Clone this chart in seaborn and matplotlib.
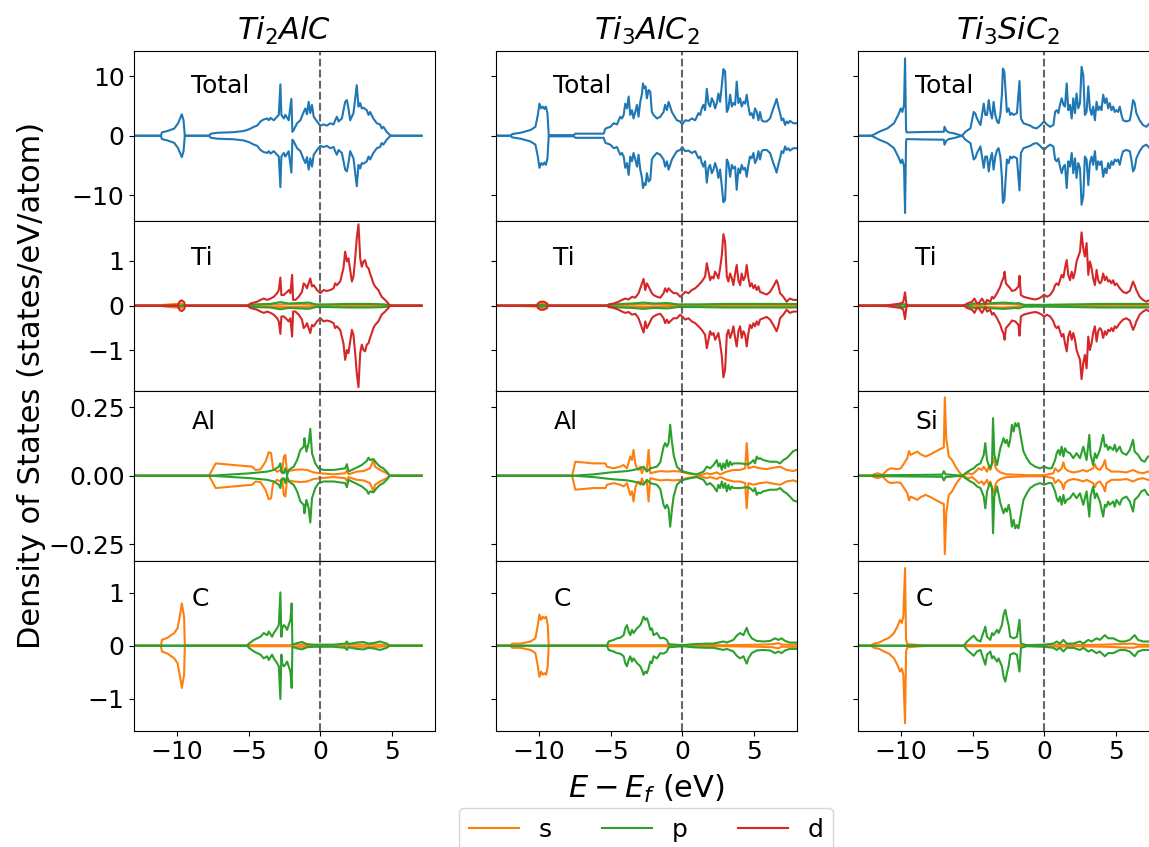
import numpy as np
import matplotlib
matplotlib.use("Agg")
import matplotlib.pyplot as plt
import seaborn as sns

# ---------------------------------------------------------------------------
# Density of states (states/eV/atom) vs. E - E_f (eV); spin-down drawn mirrored
# ---------------------------------------------------------------------------
compounds = [r"$Ti_2AlC$", r"$Ti_3AlC_2$", r"$Ti_3SiC_2$"]
row_labels = [["Total", "Ti", "Al", "C"],
              ["Total", "Ti", "Al", "C"],
              ["Total", "Ti", "Si", "C"]]
orbitals = ["s", "p", "d"]

# ----------------------------- Ti2AlC --------------------------------------
e_ti2alc_total = [-13.5, -11.14, -11.07, -10.68, -10.21, -9.94, -9.75, -9.68, -9.56, -9.47, -7.78, -7.66,
                  -7.20, -6.04, -5.34, -4.99, -4.64, -4.41, -4.18, -3.95, -3.71, -3.60, -3.48, -3.25,
                  -3.02, -2.90, -2.79, -2.72, -2.55, -2.44, -2.21, -2.02, -1.95, -1.86, -1.62, -1.39,
                  -1.16, -1.04, -0.93, -0.81, -0.70, -0.58, -0.46, -0.23, 0.0, 0.23, 0.46, 0.70, 0.93,
                  1.04, 1.16, 1.28, 1.51, 1.74, 1.86, 1.97, 2.09, 2.32, 2.55, 2.67, 2.79, 2.90, 3.02,
                  3.25, 3.37, 3.48, 3.71, 3.95, 4.18, 4.29, 4.41, 4.64, 4.87, 4.99, 7.08]
dos_ti2alc_total = [0, 0, 0.56, 0.8, 1.2, 2.1, 3.2, 3.6, 2.6, 0, 0, 0.34,
                    0.5, 0.6, 0.8, 1.07, 1.5, 1.7, 2.4, 2.75, 2.9, 2.6, 3.0, 2.6,
                    3.2, 3.5, 8.65, 3.5, 2.9, 3.5, 2.6, 6.2, 0.67, 0.95, 2.1, 2.6,
                    4.0, 4.6, 3.6, 5.7, 3.8, 5.2, 3.2, 2.4, 1.7, 1.9, 1.7, 2.1, 1.9,
                    2.6, 3.2, 2.4, 2.9, 5.7, 6.0, 4.6, 2.6, 3.8, 8.5, 4.9, 5.5, 4.6, 4.7,
                    4.3, 3.5, 4.0, 2.9, 2.1, 1.9, 1.24, 1.5, 0.67, 0.1, 0, 0]

e_ti2alc_ti_s = [-13.5, -11.1, -10.9, -9.7, -9.45, -4.8, -4.0, -2.5, -1.0, 0.0, 2.0, 4.0, 4.8, 7.08]
dos_ti2alc_ti_s = [0, 0, 0.02, 0.05, 0, 0, 0.02, 0.03, 0.03, 0.01, 0.01, 0.02, 0, 0]
e_ti2alc_ti_p = [-13.5, -5.0, -4.6, -3.5, -2.8, -2.2, -1.5, -0.8, -0.3, 0.5, 2.0, 3.5, 4.5, 5.0, 7.08]
dos_ti2alc_ti_p = [0, 0, 0.03, 0.04, 0.08, 0.05, 0.06, 0.07, 0.03, 0.03, 0.04, 0.04, 0.03, 0, 0]
e_ti2alc_ti_d = [-13.5, -9.98, -9.82, -9.68, -9.52, -9.45, -5.11, -4.87, -4.41, -4.18, -3.95, -3.71,
                 -3.48, -3.25, -3.02, -2.90, -2.79, -2.72, -2.55, -2.32, -2.21, -2.09, -1.97, -1.90,
                 -1.74, -1.51, -1.28, -1.16, -1.04, -0.93, -0.70, -0.58, -0.46, -0.23, 0.0, 0.23,
                 0.46, 0.70, 0.93, 1.04, 1.16, 1.39, 1.62, 1.74, 1.86, 1.97, 2.09, 2.21, 2.32, 2.44,
                 2.55, 2.67, 2.79, 2.90, 3.02, 3.13, 3.25, 3.37, 3.48, 3.60, 3.71, 3.83, 4.06, 4.29,
                 4.53, 4.76, 4.87, 7.08]
dos_ti2alc_ti_d = [0, 0, 0.1, 0.12, 0.08, 0, 0, 0.05, 0.09, 0.13, 0.16, 0.13,
                   0.16, 0.2, 0.28, 0.35, 0.63, 0.24, 0.24, 0.31, 0.35, 0.28, 0.69, 0.13,
                   0.13, 0.2, 0.31, 0.5, 0.46, 0.39, 0.61, 0.43, 0.46, 0.35, 0.28, 0.35,
                   0.33, 0.35, 0.39, 0.5, 0.46, 0.54, 0.84, 1.21, 0.99, 1.06, 0.8, 0.54, 0.65, 1.06,
                   1.51, 1.82, 1.06, 0.87, 0.99, 1.02, 0.87, 0.84, 0.72, 0.61, 0.5, 0.43, 0.35, 0.2,
                   0.13, 0.05, 0, 0]

e_ti2alc_al_s = [-13.5, -7.78, -7.31, -6.04, -4.76, -4.53, -4.18, -3.83, -3.60, -3.44, -3.30, -3.02,
                 -2.79, -2.67, -2.55, -2.44, -2.32, -2.21, -1.86, -1.39, -0.93, -0.46, 0.0, 0.93,
                 1.74, 1.86, 1.97, 2.55, 3.02, 3.48, 3.71, 3.83, 4.18, 4.64, 4.87, 7.08]
dos_ti2alc_al_s = [0, 0, 0.045, 0.039, 0.033, 0.021, 0.023, 0.051, 0.086, 0.082, 0.027, 0.015,
                   0.021, 0.009, 0.07, 0.076, 0.009, 0.017, 0.021, 0.023, 0.021, 0.012, 0.009, 0.005,
                   0.009, 0.02, 0.005, 0.015, 0.017, 0.027, 0.057, 0.033, 0.021, 0.009, 0, 0]
e_ti2alc_al_p = [-13.5, -7.66, -4.87, -3.71, -3.25, -2.90, -2.79, -2.72, -2.55, -2.44, -2.32, -2.21,
                 -1.86, -1.62, -1.39, -1.16, -1.11, -0.97, -0.81, -0.70, -0.58, -0.35, -0.12, 0.23,
                 0.93, 1.74, 1.86, 1.97, 2.44, 2.90, 3.25, 3.37, 3.48, 3.71, 3.95, 4.18, 4.41, 4.64,
                 4.87, 7.08]
dos_ti2alc_al_p = [0, 0, 0.009, 0.015, 0.021, 0.033, 0.045, 0.015, 0.009, 0.027, 0.002, 0.021,
                   0.033, 0.057, 0.094, 0.106, 0.137, 0.088, 0.119, 0.171, 0.082, 0.045, 0.027, 0.021,
                   0.021, 0.027, 0.042, 0.015, 0.027, 0.039, 0.054, 0.066, 0.057, 0.061, 0.045, 0.033,
                   0.027, 0.015, 0, 0]

e_ti2alc_c_s = [-13.5, -11.14, -11.07, -10.68, -10.21, -9.98, -9.80, -9.68, -9.52, -9.47, -5.11, -4.87,
                -2.09, -1.86, -1.16, -0.81, 1.62, 1.86, 2.32, 3.25, 4.18, 4.87, 7.08]
dos_ti2alc_c_s = [0, 0, 0.11, 0.15, 0.24, 0.33, 0.59, 0.8, 0.55, 0, 0, 0.01,
                  0.01, 0.02, 0.02, 0, 0, 0.02, 0.02, 0.02, 0.02, 0, 0]
e_ti2alc_c_p = [-13.5, -5.11, -4.99, -4.64, -4.41, -4.18, -3.95, -3.71, -3.60, -3.37, -3.25, -3.02,
                -2.90, -2.79, -2.72, -2.67, -2.55, -2.44, -2.32, -2.21, -2.09, -2.00, -1.95, -1.62,
                -1.28, -0.93, -0.46, 0.93, 1.74, 1.86, 1.97, 2.55, 3.02, 3.37, 3.71, 4.18, 4.64, 4.87,
                7.08]
dos_ti2alc_c_p = [0, 0, 0.04, 0.11, 0.14, 0.17, 0.24, 0.2, 0.27, 0.17, 0.24, 0.33,
                  0.39, 1.01, 0.17, 0.33, 0.39, 0.36, 0.3, 0.39, 0.49, 0.8, 0.02, 0.05,
                  0.07, 0.03, 0.02, 0.02, 0.04, 0.08, 0.03, 0.06, 0.07, 0.04, 0.05, 0.08, 0.04, 0,
                  0]

# ----------------------------- Ti3AlC2 -------------------------------------
e_ti3alc2_total = [-13.5, -12.0, -11.88, -11.30, -10.60, -10.26, -10.09, -9.98, -9.86, -9.74, -9.63,
                   -9.53, -9.42, -9.33, -7.58, -7.47, -5.49, -5.37, -5.26, -5.02, -4.79, -4.56, -4.33,
                   -4.21, -4.09, -3.98, -3.86, -3.74, -3.63, -3.51, -3.40, -3.28, -3.16, -3.05, -2.93,
                   -2.81, -2.74, -2.65, -2.56, -2.47, -2.35, -2.23, -2.12, -2.00, -1.77, -1.53, -1.30,
                   -1.19, -1.07, -0.95, -0.84, -0.72, -0.60, -0.37, -0.14, 0.0, 0.21, 0.44, 0.67, 0.91,
                   1.14, 1.26, 1.37, 1.49, 1.60, 1.72, 1.84, 1.95, 2.07, 2.19, 2.30, 2.42, 2.53, 2.65,
                   2.77, 2.88, 3.00, 3.12, 3.23, 3.35, 3.47, 3.58, 3.70, 3.81, 3.93, 4.05, 4.16, 4.28,
                   4.40, 4.51, 4.63, 4.74, 4.86, 4.98, 5.09, 5.21, 5.33, 5.44, 5.56, 5.67, 5.91, 6.14,
                   6.37, 6.49, 6.60, 6.72, 6.84, 6.95, 7.07, 7.19, 7.30, 7.42, 7.53, 7.77, 8.0, 8.3]
dos_ti3alc2_total = [0, 0, 0.28, 0.5, 0.96, 1.5, 3.5, 5.4, 4.6, 4.9, 4.5,
                     4.9, 3.8, 0.1, 0.1, 0.35, 0.35, 1.2, 1.3, 1.5, 2.1, 1.9, 3.2,
                     2.9, 3.5, 5.4, 4.6, 6.6, 3.5, 4.3, 2.9, 4.0, 5.2, 3.2, 5.7,
                     7.1, 8.8, 8.0, 8.3, 6.3, 7.7, 7.4, 4.0, 3.5, 2.9, 3.2, 4.0,
                     5.2, 4.3, 5.7, 4.9, 4.0, 3.5, 2.6, 2.4, 1.9, 2.6, 2.5, 2.9, 2.6,
                     3.8, 3.5, 4.6, 5.2, 4.3, 7.9, 5.4, 4.9, 6.3, 5.7, 4.6, 5.5, 7.1, 5.7,
                     8.5, 11.2, 10.8, 4.0, 4.6, 6.9, 4.9, 5.5, 5.2, 9.1, 5.5, 6.3, 4.9, 5.7,
                     5.4, 6.9, 4.9, 3.5, 3.8, 2.9, 4.6, 4.0, 2.6, 4.0, 2.6, 2.4, 2.4, 2.9,
                     4.6, 5.4, 6.2, 4.9, 3.8, 2.6, 2.9, 1.8, 2.4, 2.1, 2.5, 2.1, 2.1, 2.0]

e_ti3alc2_ti_s = [-13.5, -12.0, -10.0, -9.8, -9.4, -5.3, -4.0, -2.5, -1.0, 0.0, 3.0, 5.0, 8.3]
dos_ti3alc2_ti_s = [0, 0, 0.02, 0.06, 0, 0, 0.02, 0.03, 0.02, 0.01, 0.01, 0.02, 0.01]
e_ti3alc2_ti_p = [-13.5, -10.2, -9.8, -9.4, -5.3, -4.8, -3.5, -2.7, -2.0, -1.0, -0.3, 1.0, 3.0, 5.0,
                  6.5, 8.3]
dos_ti3alc2_ti_p = [0, 0, 0.02, 0, 0, 0.03, 0.05, 0.07, 0.05, 0.06, 0.03, 0.03, 0.04, 0.04,
                    0.04, 0.04]
e_ti3alc2_ti_d = [-13.5, -10.14, -10.09, -9.91, -9.67, -9.44, -9.40, -5.26, -5.14, -4.79, -4.44, -4.21,
                  -3.98, -3.74, -3.51, -3.28, -3.05, -2.81, -2.70, -2.58, -2.47, -2.35, -2.23, -2.12,
                  -2.00, -1.77, -1.53, -1.30, -1.19, -1.07, -0.95, -0.84, -0.60, -0.37, -0.14, 0.0,
                  0.21, 0.44, 0.67, 0.91, 1.14, 1.37, 1.60, 1.72, 1.84, 1.95, 2.07, 2.19, 2.30, 2.42,
                  2.53, 2.65, 2.77, 2.88, 3.00, 3.12, 3.23, 3.35, 3.47, 3.58, 3.70, 3.81, 3.93, 4.05,
                  4.16, 4.28, 4.40, 4.51, 4.63, 4.74, 4.86, 4.98, 5.09, 5.21, 5.33, 5.44, 5.67, 5.91,
                  6.14, 6.37, 6.60, 6.72, 6.84, 7.07, 7.30, 7.53, 7.77, 8.0, 8.3]
dos_ti3alc2_ti_d = [0, 0, 0.05, 0.09, 0.09, 0.05, 0, 0, 0.03, 0.05, 0.09, 0.13,
                    0.16, 0.14, 0.2, 0.18, 0.28, 0.5, 0.6, 0.35, 0.5, 0.43, 0.35, 0.28,
                    0.24, 0.2, 0.18, 0.28, 0.39, 0.31, 0.39, 0.35, 0.28, 0.28, 0.2, 0.24,
                    0.31, 0.28, 0.35, 0.39, 0.46, 0.54, 0.65, 0.95, 0.76, 0.57, 0.65, 0.61, 0.76, 0.69,
                    0.61, 0.84, 1.13, 1.6, 1.43, 0.65, 0.54, 0.72, 0.61, 0.46, 0.72, 0.91, 0.57, 0.46,
                    0.72, 0.57, 0.65, 0.91, 0.61, 0.43, 0.5, 0.39, 0.46, 0.35, 0.43, 0.31, 0.28, 0.25,
                    0.31, 0.43, 0.57, 0.46, 0.28, 0.2, 0.09, 0.16, 0.13, 0.13, 0.12]

e_ti3alc2_al_s = [-13.5, -7.70, -7.47, -6.19, -5.37, -5.26, -4.79, -4.33, -4.09, -3.86, -3.63, -3.51,
                  -3.40, -3.28, -3.16, -3.05, -2.93, -2.81, -2.70, -2.47, -2.35, -2.23, -2.00, -1.53,
                  -1.07, -0.60, -0.14, 0.33, 0.79, 1.26, 1.72, 1.95, 2.42, 2.65, 3.12, 3.58, 4.05,
                  4.40, 4.51, 4.63, 4.98, 5.44, 5.91, 6.37, 6.84, 7.30, 7.77, 8.0, 8.3]
dos_ti3alc2_al_s = [0, 0, 0.051, 0.045, 0.045, 0.033, 0.027, 0.033, 0.039, 0.027, 0.07, 0.057,
                    0.094, 0.045, 0.027, 0.021, 0.033, 0.009, 0.027, 0.021, 0.094, 0.009, 0.012, 0.017,
                    0.015, 0.017, 0.015, 0.009, 0.005, 0.002, 0.009, 0.005, 0.012, 0.005, 0.015, 0.021,
                    0.021, 0.027, 0.119, 0.027, 0.033, 0.027, 0.024, 0.029, 0.033, 0.021, 0.017, 0.021,
                    0.02]
e_ti3alc2_al_p = [-13.5, -7.58, -6.19, -5.02, -3.86, -3.40, -2.93, -2.70, -2.47, -2.23, -1.77, -1.53,
                  -1.30, -1.19, -1.07, -0.95, -0.84, -0.72, -0.60, -0.37, -0.14, 0.09, 0.56, 1.02,
                  1.49, 1.72, 1.95, 2.19, 2.42, 2.53, 2.65, 2.77, 2.88, 3.00, 3.12, 3.23, 3.35, 3.47,
                  3.58, 4.05, 4.51, 4.74, 4.98, 5.09, 5.21, 5.33, 5.44, 5.67, 6.14, 6.60, 6.84, 7.07,
                  7.30, 7.53, 7.77, 8.0, 8.3]
dos_ti3alc2_al_p = [0, 0, 0.005, 0.012, 0.017, 0.021, 0.027, 0.033, 0.015, 0.027, 0.033, 0.049,
                    0.106, 0.119, 0.106, 0.119, 0.186, 0.125, 0.076, 0.033, 0.021, 0.015, 0.009, 0.005,
                    0.015, 0.033, 0.027, 0.039, 0.057, 0.033, 0.045, 0.021, 0.045, 0.027, 0.057, 0.033,
                    0.051, 0.039, 0.045, 0.045, 0.042, 0.045, 0.057, 0.045, 0.07, 0.061, 0.064, 0.057,
                    0.051, 0.051, 0.045, 0.057, 0.064, 0.076, 0.09, 0.094, 0.095]

e_ti3alc2_c_s = [-13.5, -12.0, -11.88, -11.30, -10.60, -10.26, -10.09, -9.98, -9.86, -9.74, -9.63,
                 -9.51, -9.40, -9.33, -5.26, -5.02, -1.07, -0.84, 0.79, 1.26, 3.12, 5.44, 6.37, 6.72,
                 6.95, 8.0, 8.3]
dos_ti3alc2_c_s = [0, 0, 0.04, 0.04, 0.08, 0.14, 0.39, 0.59, 0.49, 0.55, 0.52,
                   0.55, 0.39, 0, 0, 0.01, 0.01, 0, 0, 0.01, 0.01, 0.02, 0.03, 0.05,
                   0.02, 0.02, 0.02]
e_ti3alc2_c_p = [-13.5, -5.26, -5.14, -4.79, -4.56, -4.33, -4.09, -3.98, -3.86, -3.74, -3.63, -3.51,
                 -3.40, -3.16, -2.93, -2.81, -2.70, -2.58, -2.47, -2.35, -2.23, -2.12, -2.00, -1.77,
                 -1.53, -1.30, -1.07, -0.95, 0.0, 0.79, 1.72, 2.19, 2.88, 3.12, 3.58, 3.81, 4.05,
                 4.28, 4.51, 4.63, 4.86, 5.21, 5.67, 6.14, 6.49, 6.72, 6.95, 7.19, 7.53, 8.0, 8.3]
dos_ti3alc2_c_p = [0, 0, 0.08, 0.11, 0.14, 0.15, 0.2, 0.33, 0.39, 0.27, 0.2, 0.3,
                   0.24, 0.33, 0.39, 0.46, 0.55, 0.49, 0.52, 0.43, 0.3, 0.33, 0.2, 0.24,
                   0.14, 0.15, 0.11, 0.03, 0.01, 0.03, 0.04, 0.04, 0.08, 0.06, 0.11, 0.19, 0.24,
                   0.2, 0.34, 0.24, 0.14, 0.09, 0.08, 0.09, 0.14, 0.11, 0.14, 0.09, 0.06, 0.06, 0.06]

# ----------------------------- Ti3SiC2 -------------------------------------
e_ti3sic2_total = [-13.5, -12.11, -11.88, -11.53, -10.95, -10.49, -10.14, -10.02, -9.91, -9.79, -9.72,
                   -9.65, -9.61, -8.63, -7.01, -6.96, -6.82, -6.66, -6.31, -5.73, -5.50, -5.15, -4.92,
                   -4.80, -4.69, -4.45, -4.22, -4.11, -3.99, -3.87, -3.76, -3.64, -3.53, -3.41, -3.29,
                   -3.18, -3.06, -2.95, -2.88, -2.78, -2.69, -2.60, -2.48, -2.37, -2.25, -2.13, -1.90,
                   -1.72, -1.62, -1.44, -1.21, -0.97, -0.74, -0.51, -0.28, 0.0, 0.19, 0.42, 0.65, 0.77,
                   0.88, 1.00, 1.11, 1.23, 1.35, 1.46, 1.58, 1.69, 1.81, 1.93, 2.04, 2.16, 2.27, 2.39,
                   2.51, 2.62, 2.74, 2.85, 2.97, 3.09, 3.20, 3.32, 3.43, 3.55, 3.67, 3.78, 3.90, 4.01,
                   4.13, 4.25, 4.36, 4.48, 4.59, 4.71, 4.83, 4.94, 5.06, 5.17, 5.29, 5.41, 5.52, 5.75,
                   5.99, 6.10, 6.22, 6.33, 6.45, 6.68, 6.91, 7.15, 7.38, 8.0, 8.3]
dos_ti3sic2_total = [0, 0, 0.22, 0.67, 1.24, 2.1, 3.8, 4.6, 4.0, 5.2, 13.0,
                     1.0, 0.56, 0.62, 0.67, 1.5, 0.8, 0.56, 0.4, 0.0, 0.67, 1.24, 4.0,
                     3.7, 2.9, 1.8, 5.4, 3.5, 3.5, 6.0, 4.0, 2.9, 5.7, 3.5, 2.4,
                     2.1, 3.5, 6.9, 11.3, 10.8, 7.4, 4.0, 4.6, 3.5, 3.8, 3.5, 3.8,
                     9.2, 2.9, 2.1, 1.9, 1.7, 1.35, 1.24, 1.7, 2.4, 1.9, 1.5, 1.8, 4.0,
                     4.3, 3.8, 5.2, 6.3, 5.2, 4.9, 8.8, 4.3, 5.2, 2.9, 6.3, 3.8, 7.1, 4.6,
                     5.5, 11.6, 10.2, 3.5, 4.0, 8.3, 4.6, 3.5, 4.9, 2.6, 5.7, 4.3, 4.9, 4.3,
                     6.9, 5.5, 6.3, 4.6, 5.5, 4.3, 4.9, 4.0, 4.3, 4.0, 4.9, 3.5, 2.6, 2.4,
                     2.6, 4.0, 6.0, 5.5, 3.8, 2.6, 1.8, 1.5, 2.1, 2.3, 2.2]

e_ti3sic2_ti_s = [-13.5, -11.5, -10.5, -9.8, -9.6, -5.5, -4.0, -3.0, -2.0, -1.5, 0.0, 3.0, 5.0, 8.3]
dos_ti3sic2_ti_s = [0, 0, 0.01, 0.04, 0, 0, 0.03, 0.04, 0.03, 0.01, 0.01, 0.01, 0.02, 0.01]
e_ti3sic2_ti_p = [-13.5, -10.5, -9.8, -9.6, -5.5, -4.9, -4.3, -3.5, -2.8, -2.0, -1.8, -1.4, 0.0, 2.0,
                  4.0, 6.0, 8.3]
dos_ti3sic2_ti_p = [0, 0, 0.03, 0, 0, 0.05, 0.04, 0.06, 0.07, 0.05, 0.06, 0.02, 0.02, 0.03,
                    0.04, 0.04, 0.04]
e_ti3sic2_ti_d = [-13.5, -12.11, -10.95, -10.02, -9.84, -9.72, -9.63, -9.56, -5.61, -5.38, -5.03, -4.87,
                  -4.73, -4.57, -4.34, -4.22, -4.11, -3.99, -3.76, -3.64, -3.53, -3.29, -3.06, -2.95,
                  -2.83, -2.76, -2.67, -2.48, -2.37, -2.25, -2.02, -1.79, -1.72, -1.62, -1.44, -1.21,
                  -0.97, -0.63, -0.39, -0.16, 0.0, 0.19, 0.42, 0.65, 0.77, 0.88, 1.00, 1.11, 1.23,
                  1.35, 1.46, 1.58, 1.69, 1.81, 1.93, 2.04, 2.16, 2.27, 2.39, 2.51, 2.62, 2.74, 2.85,
                  2.97, 3.09, 3.20, 3.32, 3.43, 3.55, 3.67, 3.78, 3.90, 4.01, 4.13, 4.25, 4.36, 4.48,
                  4.59, 4.71, 4.83, 4.94, 5.06, 5.29, 5.52, 5.75, 5.99, 6.22, 6.33, 6.45, 6.68, 6.91,
                  7.15, 7.38, 8.0, 8.3]
dos_ti3sic2_ti_d = [0, 0, 0.01, 0.05, 0.09, 0.3, 0.05, 0, 0, 0.05, 0.09, 0.16,
                    0.07, 0.05, 0.16, 0.09, 0.03, 0.13, 0.09, 0.2, 0.16, 0.28, 0.43, 0.54,
                    0.63, 0.76, 0.5, 0.43, 0.39, 0.33, 0.35, 0.43, 0.67, 0.24, 0.2, 0.18,
                    0.16, 0.14, 0.16, 0.2, 0.25, 0.2, 0.24, 0.35, 0.46, 0.5, 0.46, 0.57, 0.69,
                    0.63, 0.84, 1.02, 0.69, 0.57, 0.76, 0.61, 0.76, 0.99, 1.10, 1.21, 1.64, 1.28, 1.10,
                    1.40, 0.69, 0.99, 0.84, 0.61, 0.46, 0.8, 0.57, 0.5, 0.54, 0.72, 0.57, 0.65, 0.54,
                    0.57, 0.5, 0.57, 0.46, 0.5, 0.39, 0.31, 0.28, 0.33, 0.54, 0.46, 0.35, 0.2, 0.13,
                    0.09, 0.13, 0.15, 0.15]

e_ti3sic2_si_s = [-13.5, -12.11, -11.88, -11.65, -11.30, -10.95, -10.72, -10.26, -10.02, -9.79, -9.56,
                  -9.44, -9.33, -9.09, -8.86, -8.63, -8.28, -7.94, -7.59, -7.24, -7.01, -6.94, -6.84,
                  -6.66, -6.43, -6.19, -5.96, -5.73, -5.50, -5.27, -5.03, -4.80, -4.57, -4.34, -4.22,
                  -3.99, -3.87, -3.76, -3.64, -3.53, -3.41, -3.29, -3.06, -2.60, -1.21, 0.0, 0.65, 0.77,
                  1.00, 1.23, 1.35, 1.46, 1.69, 2.04, 2.39, 2.74, 2.97, 3.20, 3.43, 3.55, 3.67, 3.90,
                  4.13, 4.25, 4.36, 4.71, 5.29, 5.75, 6.22, 6.57, 6.91, 7.26, 8.0, 8.3]
dos_ti3sic2_si_s = [0, 0, 0.005, 0.009, 0.003, 0.021, 0.027, 0.024, 0.027, 0.045, 0.064,
                    0.090, 0.076, 0.082, 0.088, 0.078, 0.070, 0.078, 0.088, 0.098, 0.103, 0.286, 0.137,
                    0.070, 0.057, 0.033, 0.015, 0.0, 0.005, 0.009, 0.005, 0.015, 0.027, 0.021, 0.033,
                    0.015, 0.033, 0.021, 0.045, 0.064, 0.033, 0.021, 0.012, 0.005, 0.002, 0.002, 0.009,
                    0.027, 0.015, 0.027, 0.049, 0.027, 0.017, 0.012, 0.015, 0.021, 0.015, 0.021, 0.027,
                    0.042, 0.027, 0.021, 0.039, 0.057, 0.027, 0.015, 0.015, 0.012, 0.021, 0.012, 0.009,
                    0.015, 0.012, 0.012]
e_ti3sic2_si_p = [-13.5, -12.11, -10.95, -8.63, -7.12, -7.01, -6.89, -5.73, -5.50, -5.15, -4.92, -4.69,
                  -4.45, -4.22, -4.11, -3.99, -3.87, -3.76, -3.64, -3.57, -3.48, -3.29, -3.06, -2.83,
                  -2.71, -2.60, -2.48, -2.37, -2.25, -2.13, -2.02, -1.90, -1.79, -1.67, -1.55, -1.44,
                  -1.21, -0.97, -0.63, -0.28, 0.0, 0.30, 0.53, 0.77, 0.88, 1.00, 1.11, 1.23, 1.35,
                  1.46, 1.58, 1.81, 2.04, 2.27, 2.51, 2.74, 2.97, 3.16, 3.25, 3.43, 3.55, 3.67, 3.90,
                  4.13, 4.25, 4.36, 4.48, 4.59, 4.83, 4.94, 5.06, 5.29, 5.41, 5.52, 5.75, 5.99, 6.22,
                  6.33, 6.57, 6.80, 7.03, 7.26, 8.0, 8.3]
dos_ti3sic2_si_p = [0, 0, 0.002, 0.003, 0.004, 0.017, 0.005, 0.0, 0.009, 0.021, 0.027, 0.039,
                    0.045, 0.076, 0.119, 0.057, 0.039, 0.027, 0.045, 0.21, 0.076, 0.039, 0.1, 0.137,
                    0.119, 0.131, 0.106, 0.131, 0.186, 0.161, 0.192, 0.18, 0.192, 0.155, 0.119, 0.088,
                    0.064, 0.045, 0.033, 0.027, 0.033, 0.027, 0.027, 0.057, 0.082, 0.094, 0.076, 0.106, 0.07,
                    0.1, 0.088, 0.082, 0.064, 0.082, 0.064, 0.106, 0.057, 0.149, 0.076, 0.039, 0.082, 0.064, 0.094,
                    0.149, 0.106, 0.113, 0.094, 0.106, 0.094, 0.113, 0.088, 0.106, 0.088, 0.082, 0.076, 0.094, 0.131,
                    0.088, 0.076, 0.057, 0.051, 0.07, 0.075, 0.075]

e_ti3sic2_c_s = [-13.5, -12.11, -11.88, -11.53, -11.18, -10.84, -10.49, -10.26, -10.07, -9.95, -9.84,
                 -9.72, -9.65, -9.56, -8.63, -7.94, -5.61, -5.38, -1.67, -1.32, 0.65, 0.88, 2.04, 4.25,
                 6.22, 6.57, 8.3]
dos_ti3sic2_c_s = [0, 0, 0.04, 0.06, 0.11, 0.15, 0.24, 0.36, 0.49, 0.43, 0.55,
                   1.47, 0.11, 0.03, 0.01, 0, 0, 0.01, 0.01, 0, 0, 0.02, 0.01, 0.02,
                   0.04, 0.02, 0.01]
e_ti3sic2_c_p = [-13.5, -5.61, -5.38, -4.92, -4.69, -4.45, -4.22, -4.11, -3.99, -3.76, -3.64, -3.53,
                 -3.29, -3.18, -2.95, -2.83, -2.71, -2.60, -2.48, -2.37, -2.13, -1.90, -1.72, -1.62,
                 -1.21, 0.0, 0.65, 0.88, 1.11, 1.35, 1.58, 2.04, 2.51, 2.74, 3.09, 3.32, 3.67, 3.90,
                 4.25, 4.48, 4.83, 5.29, 5.64, 5.99, 6.33, 6.57, 6.91, 7.26, 8.3]
dos_ti3sic2_c_p = [0, 0, 0.08, 0.19, 0.11, 0.08, 0.27, 0.36, 0.17, 0.11, 0.24, 0.2,
                   0.3, 0.24, 0.39, 0.59, 0.68, 0.52, 0.39, 0.17, 0.14, 0.17, 0.49, 0.04,
                   0.01, 0.02, 0.04, 0.08, 0.04, 0.11, 0.04, 0.04, 0.08, 0.04, 0.11, 0.08, 0.14, 0.11,
                   0.2, 0.14, 0.14, 0.08, 0.08, 0.11, 0.2, 0.11, 0.08, 0.08, 0.08]

# ---------------------------------------------------------------------------
# Panel layout: rows = Total / metal / A-element / carbon ; columns = compound
# each panel entry: list of (orbital, energy, dos)
panels = [
    [
        [("total", e_ti2alc_total, dos_ti2alc_total)],
        [("s", e_ti2alc_ti_s, dos_ti2alc_ti_s), ("p", e_ti2alc_ti_p, dos_ti2alc_ti_p),
         ("d", e_ti2alc_ti_d, dos_ti2alc_ti_d)],
        [("s", e_ti2alc_al_s, dos_ti2alc_al_s), ("p", e_ti2alc_al_p, dos_ti2alc_al_p)],
        [("s", e_ti2alc_c_s, dos_ti2alc_c_s), ("p", e_ti2alc_c_p, dos_ti2alc_c_p)],
    ],
    [
        [("total", e_ti3alc2_total, dos_ti3alc2_total)],
        [("s", e_ti3alc2_ti_s, dos_ti3alc2_ti_s), ("p", e_ti3alc2_ti_p, dos_ti3alc2_ti_p),
         ("d", e_ti3alc2_ti_d, dos_ti3alc2_ti_d)],
        [("s", e_ti3alc2_al_s, dos_ti3alc2_al_s), ("p", e_ti3alc2_al_p, dos_ti3alc2_al_p)],
        [("s", e_ti3alc2_c_s, dos_ti3alc2_c_s), ("p", e_ti3alc2_c_p, dos_ti3alc2_c_p)],
    ],
    [
        [("total", e_ti3sic2_total, dos_ti3sic2_total)],
        [("s", e_ti3sic2_ti_s, dos_ti3sic2_ti_s), ("p", e_ti3sic2_ti_p, dos_ti3sic2_ti_p),
         ("d", e_ti3sic2_ti_d, dos_ti3sic2_ti_d)],
        [("s", e_ti3sic2_si_s, dos_ti3sic2_si_s), ("p", e_ti3sic2_si_p, dos_ti3sic2_si_p)],
        [("s", e_ti3sic2_c_s, dos_ti3sic2_c_s), ("p", e_ti3sic2_c_p, dos_ti3sic2_c_p)],
    ],
]

palette = sns.color_palette("tab10")
colors = {"total": palette[0], "s": palette[1], "p": palette[2], "d": palette[3]}

row_ylim = [14.3, 1.9, 0.31, 1.61]
row_yticks = [[-10, 0, 10], [-1, 0, 1], [-0.25, 0, 0.25], [-1, 0, 1]]
x_ticks = [-10, -5, 0, 5]
x_lim = (-13, 8)

plt.rcParams["font.family"] = "DejaVu Sans"
plt.rcParams["mathtext.fontset"] = "dejavusans"

fig = plt.figure(figsize=(11.49, 8.47), dpi=100)
gs = fig.add_gridspec(4, 3, left=0.1169, right=1.0083, bottom=0.1373, top=0.9401,
                      wspace=0.2047, hspace=0.0)
axes = gs.subplots(sharex="col", sharey="row")

legend_handles = {}
for col in range(3):
    for row in range(4):
        ax = axes[row, col]
        for orb, energy, dos in panels[col][row]:
            e = np.asarray(energy, dtype=float)
            d = np.asarray(dos, dtype=float)
            sns.lineplot(x=e, y=d, ax=ax, color=colors[orb], linewidth=1.5,
                         sort=False, estimator=None, errorbar=None)
            if orb in orbitals and orb not in legend_handles:
                legend_handles[orb] = ax.lines[-1]
            sns.lineplot(x=e, y=-d, ax=ax, color=colors[orb], linewidth=1.5,
                         sort=False, estimator=None, errorbar=None)
        ax.axvline(0, color="0.4", linestyle="--", linewidth=1.5)
        ax.set_ylim(-row_ylim[row], row_ylim[row])
        ax.set_yticks(row_yticks[row])
        ax.set_xlim(*x_lim)
        ax.set_xticks(x_ticks)
        ax.set_xlabel("")
        ax.set_ylabel("")
        ax.tick_params(labelsize=18)
        ax.text(0.19, [0.751, 0.738, 0.776, 0.732][row], row_labels[col][row],
                transform=ax.transAxes, fontsize=18, ha="left", va="baseline")
    axes[0, col].set_title(compounds[col], fontsize=22, pad=8)

axes[3, 1].set_xlabel(r"$E - E_f$ (eV)", fontsize=22, labelpad=6)
fig.text(0.027, 0.545, "Density of States (states/eV/atom)", rotation=90,
         fontsize=22, ha="center", va="center")

fig.legend([legend_handles[o] for o in orbitals], orbitals, loc="upper center",
           bbox_to_anchor=(0.5622, 0.046), ncol=3, fontsize=18, borderaxespad=0.0,
           frameon=True)

fig.savefig("out.png", dpi=100)
